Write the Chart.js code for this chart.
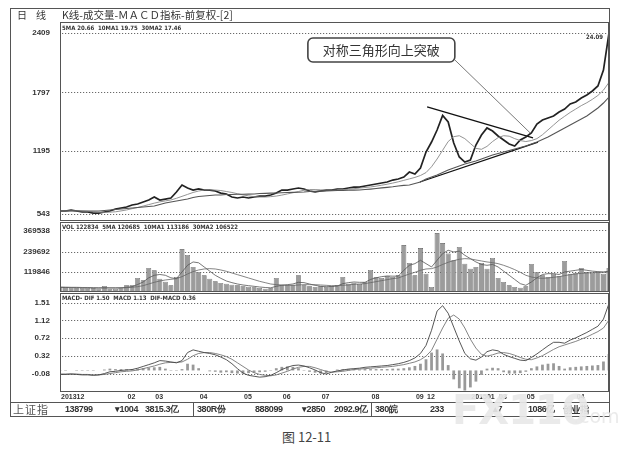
<!DOCTYPE html>
<html><head><meta charset="utf-8">
<script src="https://cdn.jsdelivr.net/npm/chart.js@4.4.0/dist/chart.umd.min.js"></script>
<style>
html,body{margin:0;padding:0;background:#fff;}
body{width:629px;height:460px;position:relative;overflow:hidden;font-family:'Liberation Sans',Arial,sans-serif;color:#333;}
.t{position:absolute;white-space:nowrap;}
.hd{font-size:6px;font-weight:bold;line-height:7px;font-family:'Liberation Sans Narrow','DejaVu Sans Condensed','Liberation Sans',sans-serif;color:#333;}
.sb{font-size:9px;font-weight:bold;line-height:13px;top:403px;letter-spacing:-0.4px;color:#333;}
canvas{position:absolute;left:0;}
.ln{position:absolute;background:#555;}
</style></head><body>

<div class="ln" style="left:10px;top:8px;width:600px;height:1px;"></div>
<div class="ln" style="left:10px;top:8px;width:1px;height:409px;"></div>
<div class="ln" style="left:609px;top:8px;width:1px;height:409px;"></div>
<div class="ln" style="left:10px;top:416px;width:600px;height:1px;"></div>
<div class="ln" style="left:10px;top:402px;width:600px;height:1px;"></div>
<div class="ln" style="left:193px;top:402px;width:1px;height:14px;"></div>
<div class="ln" style="left:371px;top:402px;width:1px;height:14px;"></div>

<canvas id="cPrice" width="629" height="215" style="top:14px"></canvas>
<canvas id="cVol" width="629" height="86" style="top:214px"></canvas>
<canvas id="cMacd" width="629" height="119" style="top:285px"></canvas>

<div class="t" style="left:17px;top:8px;font-size:10px;line-height:14px;font-family:'Noto Sans CJK SC';">日</div>
<div class="t" style="left:36px;top:8px;font-size:10px;line-height:14px;font-family:'Noto Sans CJK SC';">线</div>
<div class="t" style="left:62px;top:8px;font-size:10.5px;line-height:14px;font-family:'Noto Sans CJK SC';">K线-成交量-ＭＡＣＤ指标-前复权-[2]</div>
<div class="t hd" style="left:62px;top:24px;">5MA 20.66 &nbsp;10MA1 19.75 &nbsp;30MA2 17.46</div>
<div class="t hd" style="left:586px;top:33px;">24.09</div>
<div class="t hd" style="left:62px;top:223px;">VOL 122834 &nbsp;5MA 120685 &nbsp;10MA1 113186 &nbsp;30MA2 106522</div>
<div class="t hd" style="left:62px;top:294px;">MACD- DIF 1.50 &nbsp;MACD 1.13 &nbsp;DIF-MACD 0.36</div>

<div class="t sb" style="left:13px;font-weight:normal;font-size:11px;font-family:'Noto Sans CJK SC';color:#555;letter-spacing:1px;">上证指</div>
<div class="t sb" style="left:65px;">138799</div>
<div class="t sb" style="left:115px;">▾1004</div>
<div class="t sb" style="left:145px;">3815.3亿</div>
<div class="t sb" style="left:197px;">380R份</div>
<div class="t sb" style="left:255px;">888099</div>
<div class="t sb" style="left:302px;">▾2850</div>
<div class="t sb" style="left:334px;">2092.9亿</div>
<div class="t sb" style="left:375px;">380皖</div>
<div class="t sb" style="left:430px;">233</div>
<div class="t sb" style="left:493px;">▴7</div>
<div class="t sb" style="left:528px;">1086亿</div>
<div class="t sb" style="left:563px;font-family:'Noto Sans CJK SC';">创业指</div>

<div class="t" style="left:452px;top:388px;font-size:40px;line-height:44px;font-weight:bold;font-family:'DejaVu Sans';color:rgba(232,232,232,0.92);letter-spacing:-1px;">FX110</div>
<div class="t" style="left:573px;top:405px;font-size:19px;line-height:22px;font-family:'DejaVu Sans';color:rgba(232,232,232,0.92);">.com</div>

<div class="t" style="left:282px;top:429px;font-size:13px;line-height:16px;font-family:'Noto Sans CJK SC';color:#444;">图 12-11</div>

<script>
// ---- data ----
const xTickIdx = [0, 12, 17, 25, 33, 40, 47, 56, 64, 66, 74, 79, 84, 93];
const xTickLabels = ['201312','02','03','04','05','06','07','08','09','12','201501','03','05','04'];
const priceTicks = [543, 1195, 1797, 2409];
const volTicks = [119846, 239692, 369538];
const macdTicks = [-0.08, 0.32, 0.72, 1.12, 1.51];

const price = [
 574,574,584,574,564,564,553,553,564,574,
 595,605,615,636,646,667,687,718,687,697,
 708,770,842,811,790,801,790,790,780,759,
 749,718,708,718,708,718,728,728,739,759,
 790,790,801,811,801,780,770,780,790,790,
 801,801,811,821,821,832,842,852,863,873,
 893,904,924,976,955,1017,1182,1285,1409,1560,
 1492,1275,1131,1079,1100,1254,1357,1430,1398,1347,
 1306,1265,1244,1306,1337,1378,1471,1512,1533,1553,
 1594,1625,1677,1698,1739,1770,1811,1863,2027,2409];
const maMid = [
 574,574,576,576,574,570,566,562,560,562,
 566,575,585,598,610,625,640,655,668,678,
 688,705,725,745,765,780,790,792,790,785,
 775,765,752,740,730,722,718,718,722,728,
 738,750,762,775,788,795,795,792,790,788,
 790,794,798,804,810,816,822,830,840,850,
 862,875,890,905,920,940,970,1030,1110,1200,
 1290,1340,1350,1320,1270,1220,1210,1240,1290,1330,
 1350,1345,1320,1300,1290,1300,1320,1360,1410,1460,
 1510,1550,1590,1625,1660,1690,1725,1765,1820,1900];
const maLong = [
 574,574,574,574,574,574,574,574,579,584,
 589,595,600,605,610,615,620,626,641,656,
 667,677,687,697,713,723,728,734,739,739,
 744,744,746,746,748,749,754,756,758,760,
 762,764,766,768,770,775,777,779,781,783,
 785,786,788,789,790,795,800,806,812,818,
 824,832,838,842,857,873,904,924,945,971,
 997,1017,1038,1058,1074,1089,1110,1131,1151,1167,
 1182,1198,1213,1228,1244,1265,1285,1311,1337,1368,
 1399,1430,1461,1491,1522,1553,1594,1636,1687,1749];
const volume = [
 28000,30000,25000,27000,24000,26000,22000,20000,36000,18000,
 20000,26000,40000,42000,84000,70000,144000,130000,80000,62000,
 40000,90000,257000,222000,150000,120000,100000,80000,64000,54000,
 50000,44000,40000,36000,32000,28000,24000,20000,22000,84000,
 44000,40000,42000,100000,40000,34000,30000,34000,30000,36000,
 42000,90000,50000,56000,48000,60000,132000,90000,84000,96000,
 90000,100000,281000,174000,100000,263000,110000,30000,353000,293000,
 230000,190000,270000,170000,140000,150000,174000,140000,204000,84000,
 60000,40000,30000,26000,34000,168000,120000,100000,90000,110000,
 96000,186000,110000,116000,144000,118000,114000,120000,110000,144000];
const volMaShort = [
 27000,27000,27000,26000,26000,25000,24000,23000,25000,24000,
 24000,25000,28000,32000,45000,60000,85000,100000,105000,100000,
 85000,80000,120000,160000,180000,175000,150000,125000,100000,82000,
 66000,56000,48000,42000,38000,34000,30000,27000,25000,34000,
 40000,44000,48000,58000,56000,48000,40000,34000,32000,33000,
 36000,50000,56000,60000,58000,58000,75000,85000,92000,96000,
 95000,95000,130000,160000,170000,190000,170000,150000,190000,230000,
 250000,240000,245000,220000,200000,180000,165000,160000,165000,150000,
 125000,100000,75000,50000,40000,60000,85000,105000,110000,110000,
 105000,120000,125000,130000,135000,130000,125000,122000,120000,125000];
const volMaLong = [
 30000,29000,28000,28000,27000,27000,26000,26000,25000,25000,
 25000,25000,26000,28000,32000,38000,48000,58000,66000,72000,
 76000,80000,92000,108000,122000,132000,138000,140000,138000,132000,
 124000,114000,104000,94000,84000,74000,64000,56000,48000,44000,
 42000,40000,40000,42000,44000,44000,44000,42000,40000,38000,
 38000,40000,42000,46000,48000,50000,56000,62000,68000,74000,
 80000,84000,96000,108000,118000,130000,138000,140000,150000,165000,
 178000,188000,196000,200000,198000,192000,186000,180000,176000,170000,
 160000,148000,134000,118000,100000,90000,84000,82000,84000,88000,
 92000,98000,104000,108000,112000,114000,116000,118000,118000,120000];
const dif = [
 -0.09,-0.09,-0.08,-0.09,-0.10,-0.10,-0.11,-0.10,-0.07,-0.03,
 -0.02,0.00,0.01,0.02,0.05,0.09,0.13,0.17,0.22,0.21,
 0.19,0.17,0.22,0.40,0.46,0.43,0.40,0.38,0.35,0.30,
 0.24,0.15,0.04,-0.06,-0.11,-0.13,-0.15,-0.14,-0.11,-0.05,
 0.02,0.07,0.11,0.12,0.10,0.06,0.01,-0.05,-0.08,-0.04,
 -0.01,0.01,0.03,0.04,0.05,0.07,0.08,0.09,0.10,0.11,
 0.13,0.15,0.18,0.22,0.28,0.38,0.56,0.90,1.33,1.45,
 1.28,0.97,0.66,0.38,0.26,0.23,0.30,0.42,0.46,0.44,
 0.36,0.31,0.27,0.23,0.22,0.29,0.37,0.46,0.55,0.63,
 0.63,0.61,0.68,0.73,0.79,0.85,0.92,0.99,1.15,1.50];
const dea = [
 -0.08,-0.08,-0.08,-0.08,-0.09,-0.09,-0.10,-0.10,-0.09,-0.07,
 -0.05,-0.03,-0.02,-0.01,0.01,0.04,0.07,0.10,0.14,0.17,
 0.18,0.18,0.19,0.25,0.33,0.38,0.40,0.40,0.38,0.35,
 0.31,0.25,0.17,0.09,0.01,-0.05,-0.09,-0.11,-0.12,-0.10,
 -0.06,-0.02,0.03,0.07,0.09,0.09,0.06,0.02,-0.02,-0.04,
 -0.03,-0.02,0.00,0.02,0.03,0.04,0.05,0.06,0.07,0.08,
 0.09,0.11,0.13,0.16,0.19,0.24,0.32,0.45,0.70,0.95,
 1.17,1.24,1.15,0.95,0.70,0.50,0.36,0.32,0.35,0.39,
 0.40,0.38,0.34,0.29,0.25,0.24,0.28,0.33,0.40,0.47,
 0.53,0.57,0.61,0.65,0.70,0.75,0.81,0.87,0.95,1.13];
const macdHist = [
 -0.01,-0.01,0,-0.01,-0.01,-0.01,-0.01,0,0.02,0.04,
 0.03,0.03,0.03,0.03,0.04,0.05,0.06,0.07,0.08,0.04,
 0.01,-0.01,0.03,0.15,0.13,0.05,0,-0.02,-0.03,-0.05,
 -0.04,-0.06,-0.07,-0.07,-0.06,-0.05,-0.04,-0.03,0.01,0.05,
 0.08,0.09,0.08,0.05,0.01,-0.03,-0.05,-0.07,-0.06,0,
 0.02,0.03,0.03,0.02,0.02,0.03,0.03,0.03,0.03,0.03,
 0.04,0.04,0.05,0.07,0.10,0.15,0.25,0.40,0.47,0.38,
 0.12,-0.20,-0.40,-0.45,-0.38,-0.25,-0.10,0.04,0.06,0.05,
 -0.04,-0.07,-0.07,-0.06,-0.03,0.05,0.09,0.13,0.15,0.16,
 0.10,0.04,0.07,0.08,0.09,0.10,0.11,0.12,0.20,0.37];

// annotation anchors: [index, value, index, value]
const triangleUpper = [66.2, 1646, 85.3, 1327];
const triangleLower = [64.9, 873, 86.2, 1285];
const calloutPointer = [71.2, 2131, 84.8, 1378];
const calloutBox = [44.7, 71.2, 2357, 2110]; // left idx, right idx, top val, bottom val
const calloutText = '对称三角形向上突破';

// ---- helpers ----
const pts = arr => arr.map((v, i) => ({x: i, y: v}));
const seg = a => [{x: a[0], y: a[1]}, {x: a[2], y: a[3]}];
const lastIdx = price.length - 1;

function drawDotGrid(c, values) {
  const {ctx, chartArea: a} = c;
  const ys = c.scales.y;
  ctx.save();
  ctx.fillStyle = '#6a6a6a';
  values.forEach(v => {
    const y = Math.round(ys.getPixelForValue(v));
    for (let x = Math.round(a.left) + 2; x < a.right - 1; x += 3) {
      ctx.fillRect(x, y, 1.2, 1);
    }
  });
  ctx.restore();
}

const framePlugin = {
  id: 'frame',
  afterDraw(c) {
    const {ctx, chartArea: a} = c;
    ctx.save();
    ctx.strokeStyle = '#555';
    ctx.lineWidth = 1;
    ctx.strokeRect(Math.round(a.left) + 0.5, Math.round(a.top) + 0.5, Math.round(a.width) - 1, Math.round(a.height) - 1);
    ctx.restore();
  }
};

const xLabelPlugin = {
  id: 'xlabels',
  afterDraw(c) {
    const {ctx, chartArea: a} = c;
    const xs = c.scales.x;
    ctx.save();
    ctx.fillStyle = '#333';
    ctx.font = 'bold 7px "Liberation Sans"';
    ctx.textAlign = 'left';
    ctx.textBaseline = 'top';
    xTickIdx.forEach((v, i) => {
      ctx.fillText(xTickLabels[i], xs.getPixelForValue(v) + 1, a.bottom + 2);
    });
    ctx.restore();
  }
};

const calloutPlugin = {
  id: 'callout',
  afterDatasetsDraw(c) {
    const xs = c.scales.x, ys = c.scales.y, ctx = c.ctx;
    const l = xs.getPixelForValue(calloutBox[0]), r = xs.getPixelForValue(calloutBox[1]);
    const t = ys.getPixelForValue(calloutBox[2]), b = ys.getPixelForValue(calloutBox[3]);
    ctx.save();
    ctx.beginPath();
    ctx.roundRect(l, t, r - l, b - t, 5);
    ctx.fillStyle = '#fff';
    ctx.fill();
    ctx.strokeStyle = '#444';
    ctx.lineWidth = 1.6;
    ctx.stroke();
    ctx.fillStyle = '#333';
    ctx.font = '13px "Noto Sans CJK SC"';
    ctx.textAlign = 'center';
    ctx.textBaseline = 'middle';
    ctx.fillText(calloutText, (l + r) / 2, (t + b) / 2 + 0.5);
    ctx.restore();
  }
};

function opts(yMin, yMax, yTicks, fmt, bottomPad) {
  return {
    responsive: false,
    animation: false,
    layout: {padding: {left: 12, right: 20, top: 8, bottom: bottomPad}},
    plugins: {legend: {display: false}, tooltip: {enabled: false}},
    scales: {
      x: {type: 'linear', min: 0, max: lastIdx, offset: false, display: false},
      y: {
        min: yMin, max: yMax,
        afterBuildTicks: s => { s.ticks = yTicks.map(v => ({value: v})); },
        afterFit: s => { s.width = 48; },
        grid: {display: false},
        border: {display: false},
        ticks: {padding: 2, color: '#333', font: {size: 8, weight: 'bold', family: 'Liberation Sans'}, callback: fmt}
      }
    }
  };
}

const gridPlugin = ticks => ({id: 'dotgrid', beforeDatasetsDraw(c) { drawDotGrid(c, ticks); }});

const line = (data, color, w) => ({type: 'line', data, borderColor: color, borderWidth: w, pointRadius: 0, tension: 0, fill: false});

new Chart(document.getElementById('cPrice'), {
  type: 'line',
  data: {datasets: [
    line(pts(maLong), '#555', 1.1),
    line(pts(maMid), '#888', 0.9),
    line(pts(price), '#222', 1.7),
    line(seg(triangleUpper), '#111', 1.3),
    line(seg(triangleLower), '#111', 1.3),
    line(seg(calloutPointer), '#555', 0.8)
  ]},
  options: opts(471, 2522, priceTicks, v => String(v), 8),
  plugins: [gridPlugin(priceTicks), framePlugin, calloutPlugin]
});

new Chart(document.getElementById('cVol'), {
  type: 'bar',
  data: {datasets: [
    line(pts(volMaLong), '#666', 0.8),
    line(pts(volMaShort), '#555', 0.8),
    {type: 'bar', data: pts(volume), backgroundColor: '#9c9c9c', borderColor: '#555', borderWidth: 0.6,
     barPercentage: 0.9, categoryPercentage: 1, order: 2}
  ]},
  options: opts(0, 419440, volTicks, v => String(v), 8),
  plugins: [gridPlugin(volTicks), framePlugin]
});

new Chart(document.getElementById('cMacd'), {
  type: 'bar',
  data: {datasets: [
    line(pts(dif), '#444', 0.9),
    line(pts(dea), '#777', 0.9),
    {type: 'bar', data: pts(macdHist), backgroundColor: '#999', borderWidth: 0,
     barPercentage: 0.5, categoryPercentage: 1, order: 2}
  ]},
  options: opts(-0.483, 1.734, macdTicks, v => v.toFixed(2), 12),
  plugins: [gridPlugin(macdTicks), framePlugin, xLabelPlugin]
});
</script>
</body></html>
